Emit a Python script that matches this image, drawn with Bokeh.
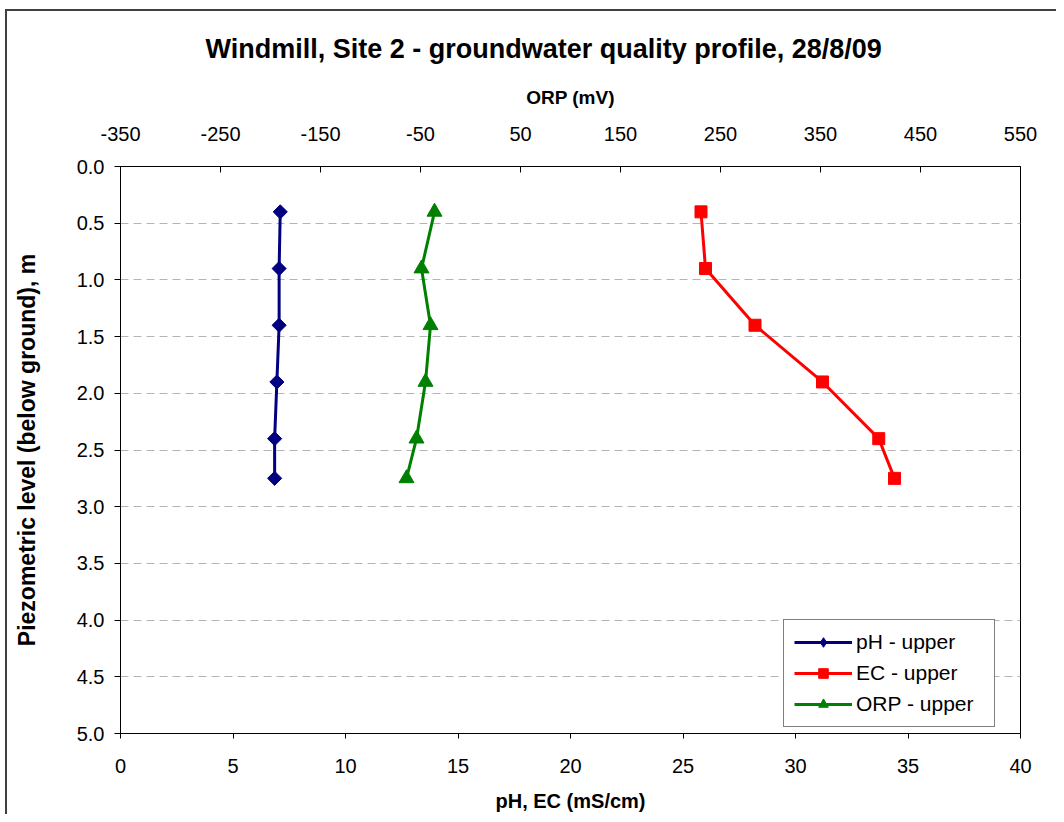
import math
from bokeh.plotting import figure
from bokeh.models import (Range1d, LinearAxis, FixedTicker, NumeralTickFormatter,
                          Legend, LegendItem)
from bokeh.layouts import column
from bokeh.embed import file_html
from bokeh.resources import INLINE

# ---- data ----
depth = [0.4, 0.9, 1.4, 1.9, 2.4, 2.75]
ph_upper = [7.1, 7.05, 7.05, 6.95, 6.85, 6.85]
ec_upper = [25.8, 26.0, 28.2, 31.2, 33.7, 34.4]
orp_upper = [-36, -49, -40, -45, -54, -64]

x_ticks = [0, 5, 10, 15, 20, 25, 30, 35, 40]
orp_ticks = [-350, -250, -150, -50, 50, 150, 250, 350, 450, 550]
y_ticks = [0.0, 0.5, 1.0, 1.5, 2.0, 2.5, 3.0, 3.5, 4.0, 4.5, 5.0]

title_text = "Windmill, Site 2 - groundwater quality profile, 28/8/09"
FONT = "Liberation Sans"

W, H = 1049, 803
p = figure(width=W, height=H, x_range=Range1d(0, 40), y_range=Range1d(5, 0),
           output_backend="svg", toolbar_location=None,
           min_border_left=113, min_border_right=W + 7 - 1020,
           min_border_top=155, min_border_bottom=11 + H - 737,
           x_axis_location="below")
p.extra_x_ranges = {"orp": Range1d(-350, 550)}

p.title.text = title_text
p.title.text_font = FONT
p.title.text_font_size = "27px"
p.title.text_font_style = "bold"
p.title.text_color = "black"
p.title.align = "left"
p.title.offset = 85
p.title.standoff = 40

p.outline_line_color = "black"
p.outline_line_width = 1
p.background_fill_color = "white"
p.border_fill_color = "white"

# bottom axis
xa = p.xaxis[0]
xa.ticker = FixedTicker(ticks=x_ticks)
xa.axis_label = "pH, EC (mS/cm)"
# left axis
ya = p.yaxis[0]
ya.ticker = FixedTicker(ticks=y_ticks)
ya.formatter = NumeralTickFormatter(format="0.0")
ya.axis_label = "Piezometric level (below ground), m"

top = LinearAxis(x_range_name="orp", ticker=FixedTicker(ticks=orp_ticks), axis_label="ORP (mV)")
top.major_label_overrides = {t: str(t) for t in orp_ticks}
p.add_layout(top, "above")

for ax in [xa, ya, top]:
    ax.axis_line_color = "black"
    ax.major_tick_line_color = "black"
    ax.minor_tick_line_color = None
    ax.major_label_text_font = FONT
    ax.major_label_text_font_size = "20px"
    ax.major_label_text_color = "black"
    ax.axis_label_text_font = FONT
    ax.axis_label_text_font_style = "bold"
    ax.axis_label_text_color = "black"

xa.axis_label_text_font_size = "20px"
ya.axis_label_text_font_size = "23px"
top.axis_label_text_font_size = "19px"

xa.major_tick_out = 5
xa.major_tick_in = 0
xa.major_label_standoff = 20
xa.axis_label_standoff = 14
ya.major_tick_out = 6
ya.major_tick_in = 0
ya.major_label_standoff = 10
ya.axis_label_standoff = 34
top.major_tick_out = 0
top.major_tick_in = 6
top.major_label_standoff = 26
top.axis_label_standoff = 16

p.xgrid.visible = False
p.ygrid.ticker = FixedTicker(ticks=y_ticks)
p.ygrid.grid_line_color = "#b4b4b4"
p.ygrid.grid_line_dash = "8 5"
p.ygrid.grid_line_width = 1

# series
r1 = p.line(ph_upper, depth, line_color="#000080", line_width=3)
m1 = p.scatter(ph_upper, depth, marker="square", size=10, angle=math.pi / 4,
               fill_color="#000080", line_color="#000080")
# legend-only diamond glyph (no data points)
m1_leg = p.scatter([float("nan")], [float("nan")], marker="diamond", size=17,
                   fill_color="#000080", line_color="#000080")
r2 = p.line(ec_upper, depth, line_color="#ff0000", line_width=3)
m2 = p.scatter(ec_upper, depth, marker="square", size=12, fill_color="#ff0000", line_color="#ff0000")
r3 = p.line(orp_upper, depth, line_color="#008000", line_width=3, x_range_name="orp")
m3 = p.scatter(orp_upper, depth, marker="triangle", size=15, fill_color="#008000", line_color="#008000",
               x_range_name="orp")

legend = Legend(items=[LegendItem(label="pH - upper", renderers=[r1, m1_leg]),
                       LegendItem(label="EC - upper", renderers=[r2, m2]),
                       LegendItem(label="ORP - upper", renderers=[r3, m3])],
                location=(663, 6))
legend.border_line_color = "black"
legend.border_line_width = 1
legend.background_fill_color = "white"
legend.background_fill_alpha = 1
legend.label_text_font = FONT
legend.label_text_font_size = "21px"
legend.label_text_color = "black"
legend.glyph_width = 58
legend.glyph_height = 24
legend.label_height = 24
legend.label_width = 128
legend.spacing = 7
legend.padding = 10
legend.margin = 0
legend.label_standoff = 4
p.add_layout(legend, "center")

page = column(p, margin=(9, 0, 0, 5),
              styles={"border-left": "2px solid #404040", "border-top": "2px solid #404040"})

open("out.html", "w").write(file_html(page, INLINE))
